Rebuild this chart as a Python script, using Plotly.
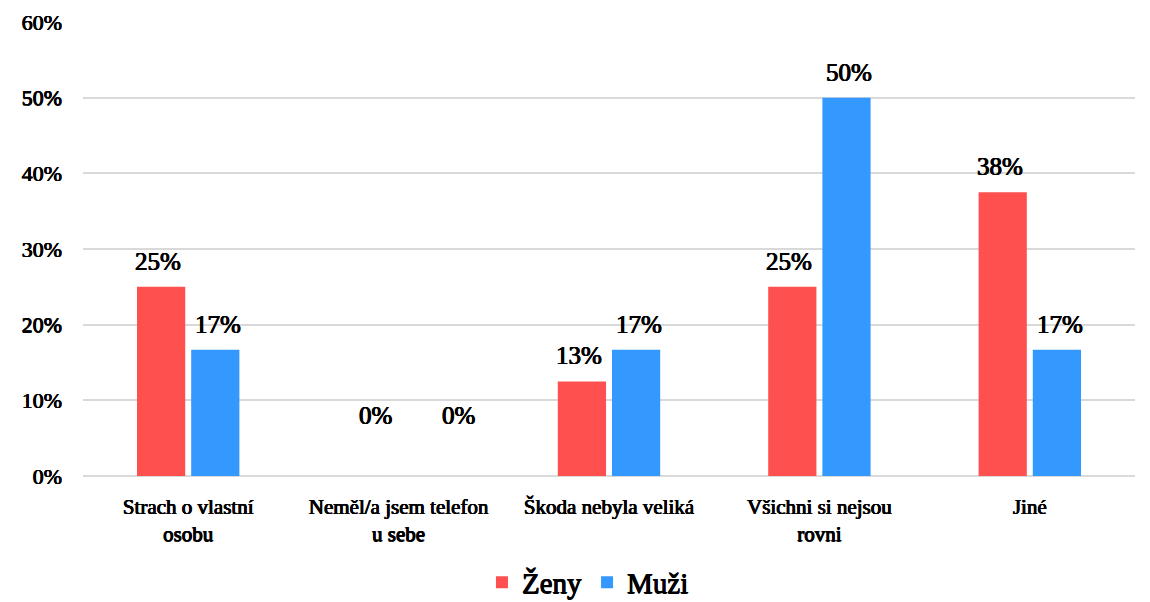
import plotly.graph_objects as go

categories = ["Strach o vlastní<br>osobu", "Neměl/a jsem telefon<br>u sebe", "Škoda nebyla veliká",
              "Všichni si nejsou<br>rovni", "Jiné"]
zeny = [0.25, 0.0, 0.125, 0.25, 0.375]
muzi = [0.1667, 0.0, 0.1667, 0.50, 0.1667]
y_ticks = [0, 0.1, 0.2, 0.3, 0.4, 0.5, 0.6]

# the bold face of Liberation Serif is not picked up, so thicken the regular one
font = "Liberation Serif"
bold = "0.45px 0 0 #000, -0.45px 0 0 #000, 0 0.3px 0 #000"
red = "#FF5050"
blue = "#3399FF"

fig = go.Figure()
fig.add_trace(go.Bar(name="Ženy", x=categories, y=zeny, marker=dict(color=red, line=dict(width=0))))
fig.add_trace(go.Bar(name="Muži", x=categories, y=muzi, marker=dict(color=blue, line=dict(width=0))))

# data labels above the bars (Excel-style half-up rounding)
for vals, shift, zshift in ((zeny, -30, -23), (muzi, 30, 60)):
    for c, v in zip(categories, vals):
        fig.add_annotation(x=c, y=v, xref="x", yref="y", text=f"{int(v * 100 + 0.5)}%", showarrow=False,
                           xshift=zshift if v == 0 else shift, yanchor="bottom",
                           yshift=45 if v == 0 else 10,
                           font=dict(family=font, size=25, color="#000000", shadow=bold))

fig.update_layout(
    width=1142, height=594,
    margin=dict(l=75, r=15, t=14, b=126, autoexpand=False),
    plot_bgcolor="white", paper_bgcolor="white",
    barmode="group", bargap=0.485, bargroupgap=0.11,
    font=dict(family=font, color="#000000"),
    showlegend=True,
    legend=dict(orientation="h", x=0.48, xanchor="center", y=-0.178, yanchor="top",
                font=dict(family=font, size=29, shadow=bold), itemwidth=30,
                traceorder="normal"),
    xaxis=dict(tickfont=dict(family=font, size=21, shadow=bold), showgrid=False,
               showline=False, ticks="", ticklabelstandoff=16, automargin=False),
    yaxis=dict(range=[0, 0.6], tickvals=y_ticks, tickformat=".0%",
               tickfont=dict(family=font, size=22, shadow=bold),
               showgrid=True, gridcolor="#D9D9D9", gridwidth=1.5,
               zeroline=True, zerolinecolor="#D9D9D9", zerolinewidth=1.5,
               showline=False, ticks="", ticklabelstandoff=20, automargin=False),
)

fig.write_html("out.html")
